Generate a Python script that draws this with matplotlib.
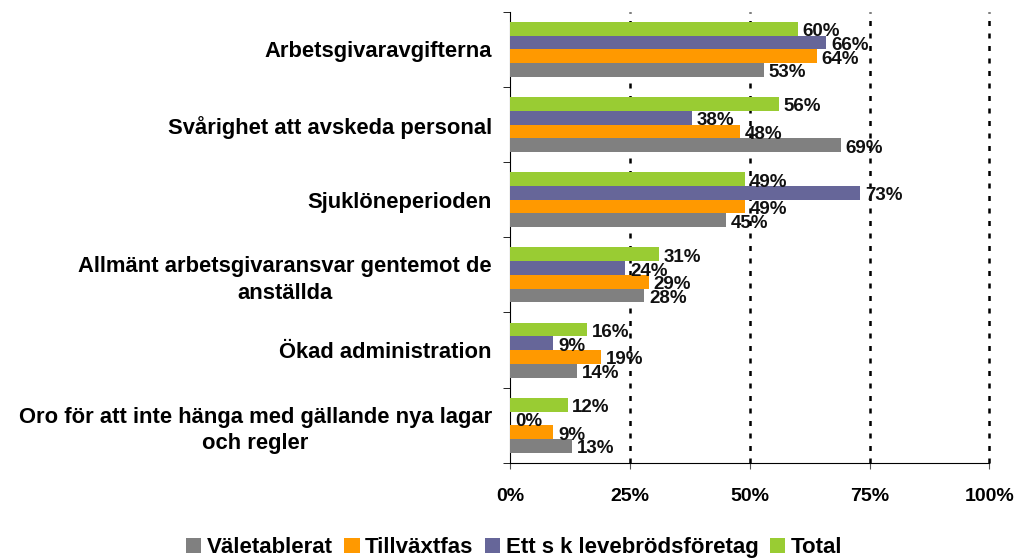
import matplotlib
matplotlib.use("Agg")
import matplotlib.pyplot as plt
import numpy as np
from matplotlib.patches import Patch

plt.rcParams['font.family'] = ['Liberation Sans', 'DejaVu Sans']

categories = [
    "Arbetsgivaravgifterna",
    "Svårighet att avskeda personal",
    "Sjuklöneperioden",
    "Allmänt arbetsgivaransvar gentemot de\nanställda",
    "Ökad administration",
    "Oro för att inte hänga med gällande nya lagar\noch regler",
]
series_names = ["Väletablerat", "Tillväxtfas", "Ett s k levebrödsföretag", "Total"]
valetablerat = [53, 69, 45, 28, 14, 13]
tillvaxtfas = [64, 48, 49, 29, 19, 9]
levebrod = [66, 38, 73, 24, 9, 0]
total = [60, 56, 49, 31, 16, 12]
x_ticks = [0, 25, 50, 75, 100]
x_tick_labels = ["0%", "25%", "50%", "75%", "100%"]

colors = ["#808080", "#FF9900", "#666699", "#99CC33"]
series = [valetablerat, tillvaxtfas, levebrod, total]

fig = plt.figure(figsize=(10.18, 5.59), dpi=100)
ax = fig.add_axes([0.501, 0.172, 0.471, 0.807])

n = len(categories)
ypos = np.arange(n)[::-1].astype(float)  # top category at top
bh = 0.183
offsets = [-1.5 * bh, -0.5 * bh, 0.5 * bh, 1.5 * bh]

for vals, col, off in zip(series, colors, offsets):
    y = ypos + off
    ax.barh(y, vals, height=bh, color=col, edgecolor='none', zorder=3)
    for yi, v in zip(y, vals):
        ax.text(v + 1.0, yi - 0.04, f"{v}%", ha='left', va='center',
                fontsize=13.5, fontweight='bold', color='#111111', zorder=4)

ax.set_xlim(0, 100)
ax.set_ylim(-0.5, n - 0.5)
ax.set_xticks(x_ticks)
ax.set_xticklabels(x_tick_labels, fontsize=14, fontweight='bold')
ax.tick_params(axis='x', direction='out', length=4, pad=14, color='#555555')

ax.set_yticks(ypos)
ax.set_yticklabels(categories, fontsize=15.8, fontweight='bold', ha='right',
                   multialignment='center', linespacing=1.35)
ax.set_yticks(np.arange(n + 1) - 0.5, minor=True)
ax.tick_params(axis='y', which='major', length=0, pad=13)
ax.tick_params(axis='y', which='minor', direction='out', length=5, color='black')

for xv in [25, 50, 75, 100]:
    ax.axvline(xv, color='black', linestyle=(0, (2, 3)), linewidth=1.8, zorder=2,
               clip_on=False)

ax.spines['top'].set_visible(False)
ax.spines['right'].set_visible(False)
ax.spines['left'].set_color('black')
ax.spines['bottom'].set_color('black')

handles = [Patch(facecolor=c, edgecolor='none') for c in colors]
fig.legend(handles, series_names, loc='center', bbox_to_anchor=(0.505, 0.02),
           ncol=4, frameon=False, prop={'weight': 'bold', 'size': 16},
           handlelength=0.7, handleheight=0.7, handletextpad=0.25, columnspacing=0.5)

fig.savefig("out.png", dpi=100)
